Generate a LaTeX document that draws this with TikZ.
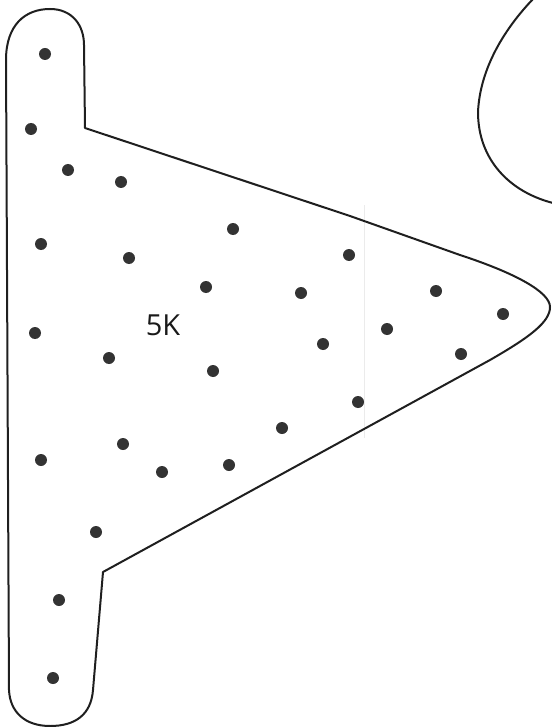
\documentclass[tikz,border=0pt]{standalone}
\usepackage{fontspec}
\setmainfont{Open Sans}
\begin{document}
\begin{tikzpicture}[x=1pt,y=-1pt,
  outline/.style={draw=black!88,line width=2pt,line join=round},
  dot/.style={circle,fill=black!80,inner sep=0pt,minimum size=12pt},
  lbl/.style={font=\fontsize{29}{34}\selectfont,text=black!90}]
\useasboundingbox (0,0) rectangle (551,727);
% faint scan line
\draw[black!8,line width=1pt] (364,205) -- (364,438);
% main outline
\draw[outline] (85,128) -- (350,216) -- (460,255)
  .. controls (515,273) and (550,292) .. (550,307)
  .. controls (550,322) and (530,337) .. (490,360)
  -- (103,572) -- (93,690)
  .. controls (91,715) and (75,726) .. (50,726)
  .. controls (25,726) and (10,712) .. (9,690)
  -- (6,60)
  .. controls (6,25) and (25,9) .. (50,9)
  .. controls (72,9) and (84,25) .. (84,45) -- cycle;
% right arc
\draw[outline] (534,-2) .. controls (505,28) and (480,68) .. (478,112)
  .. controls (478,160) and (510,192) .. (553,203);
% dots
\foreach \x/\y [count=\i] in {45/54,31/129,68/170,121/182,41/244,129/258,233/229,349/255,
  206/287,301/293,436/291,503/314,35/333,387/329,323/344,109/358,461/354,213/371,
  358/402,282/428,123/444,41/460,162/472,229/465,96/532,59/600,53/678}
  \node[dot] (d\i) at (\x,\y) {};
\node[lbl] (label) at (163,325) {5K};
\end{tikzpicture}
\end{document}
